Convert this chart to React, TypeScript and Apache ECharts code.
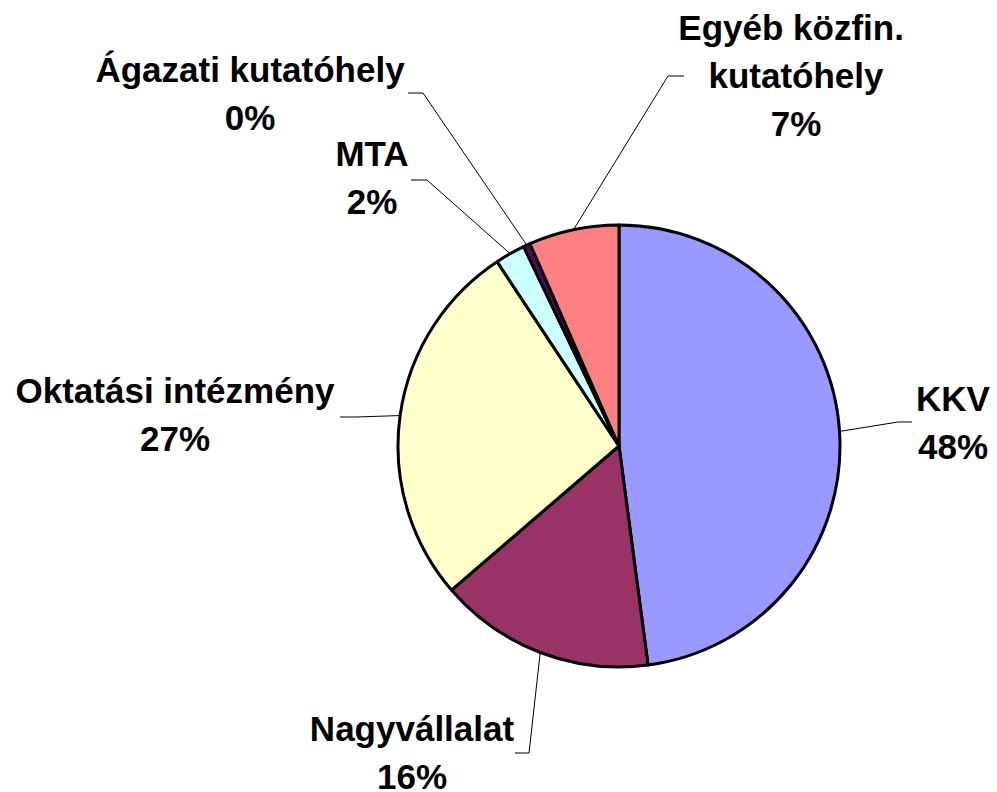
import React, { useEffect, useRef } from "react";
import * as echarts from "echarts";

// Data (share of total)
const categories = [
  "KKV",
  "Nagyvállalat",
  "Oktatási intézmény",
  "MTA",
  "Ágazati kutatóhely",
  "Egyéb közfin. \nkutatóhely",
];
const values = [47.9, 15.8, 27.0, 2.2, 0.5, 6.6];
const colors = ["#9999FF", "#993366", "#FFFFCC", "#CCFFFF", "#660066", "#FF8080"];

// Label placement (layout only): block centre, bend point and end of the leader stub
const labelPlacement = [
  { x: 953, y: 422, bend: [898, 422], end: [912, 422] },
  { x: 412, y: 752, bend: [529, 753], end: [515, 753] },
  { x: 175, y: 414, bend: [356, 417], end: [340, 417] },
  { x: 372, y: 177, bend: [427, 180], end: [411, 180] },
  { x: 250, y: 93, bend: [423, 93], end: [408, 93] },
  { x: 796, y: 75, bend: [668, 76], end: [684, 76] },
];

const CX = 619;
const CY = 446;
const R = 221;

export default function App() {
  const ref = useRef<HTMLDivElement>(null);
  useEffect(() => {
    document.body.style.margin = "0";
    if (!ref.current) return;
    const chart = echarts.init(ref.current, undefined, { renderer: "svg" });
    const total = values.reduce((a, b) => a + b, 0);
    chart.setOption({
      animation: false,
      backgroundColor: "#ffffff",
      series: [
        {
          type: "pie",
          center: [CX, CY],
          radius: [0, R],
          startAngle: 90,
          clockwise: true,
          avoidLabelOverlap: false,
          minShowLabelAngle: 0,
          percentPrecision: 0,
          data: categories.map((name, i) => ({
            name,
            value: values[i],
            itemStyle: { color: colors[i] },
          })),
          itemStyle: { borderColor: "#000000", borderWidth: 3 },
          emphasis: { disabled: true },
          label: {
            show: true,
            position: "outside",
            formatter: "{b}\n{d}%",
            fontFamily: "'Liberation Sans', Arial, sans-serif",
            fontWeight: "bold",
            fontSize: 35,
            lineHeight: 48,
            color: "#000000",
          },
          labelLine: {
            show: true,
            length: 20,
            length2: 10,
            smooth: false,
            lineStyle: { color: "#000000", width: 1 },
          },
          labelLayout: (params: any) => {
            const i = params.dataIndex;
            const p = labelPlacement[i];
            let edge = params.labelLinePoints && params.labelLinePoints[0];
            if (!edge) {
              let before = 0;
              for (let k = 0; k < i; k++) before += values[k];
              const mid = ((before + values[i] / 2) / total) * Math.PI * 2;
              edge = [CX + R * Math.sin(mid), CY - R * Math.cos(mid)];
            }
            return {
              x: p.x,
              y: p.y,
              align: "center",
              verticalAlign: "middle",
              labelLinePoints: [[edge[0], edge[1]], p.bend, p.end],
            };
          },
        },
      ],
    });
    return () => chart.dispose();
  }, []);
  return <div ref={ref} style={{ width: 997, height: 792 }} />;
}
